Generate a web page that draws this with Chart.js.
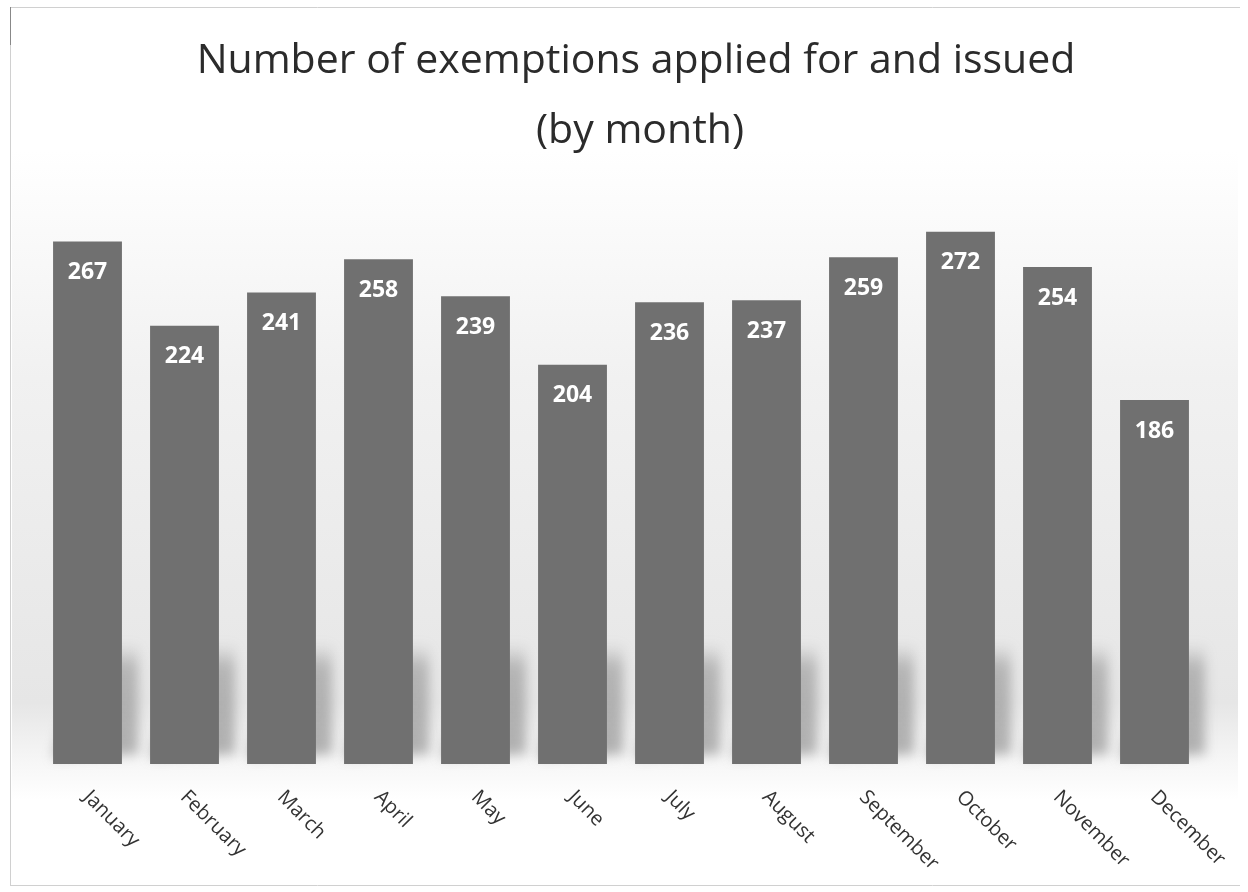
<!DOCTYPE html>
<html><head><meta charset="utf-8">
<script src="https://cdn.jsdelivr.net/npm/chart.js@4/dist/chart.umd.min.js"></script>
<style>html,body{margin:0;padding:0;background:#fff;}canvas{display:block;}</style>
</head><body>
<canvas id="c" width="1248" height="892"></canvas>
<script>
const months = ["January","February","March","April","May","June","July","August","September","October","November","December"];
const exemptions = [267,224,241,258,239,204,236,237,259,272,254,186];
const titleLines = ["Number of exemptions applied for and issued","(by month)"];

const bgPlugin = {
  id:'bg',
  beforeDraw(chart){
    const ctx = chart.ctx, W = chart.width, H = chart.height;
    ctx.save();
    ctx.fillStyle = '#ffffff'; ctx.fillRect(0,0,W,H);
    const g = ctx.createLinearGradient(0,150,0,800);
    g.addColorStop(0,'#ffffff');
    g.addColorStop(0.35,'#f1f1f1');
    g.addColorStop(0.85,'#e6e6e6');
    g.addColorStop(0.94,'#f6f6f6');
    g.addColorStop(1,'#ffffff');
    ctx.fillStyle = g; ctx.fillRect(12,150,W-22,650);
    ctx.strokeStyle = '#d0d0d0'; ctx.lineWidth = 1;
    ctx.beginPath(); ctx.moveTo(10.5,7); ctx.lineTo(10.5,885); ctx.stroke();
    ctx.beginPath(); ctx.moveTo(10,7.5); ctx.lineTo(1240,7.5); ctx.stroke();
    ctx.beginPath(); ctx.moveTo(10,885.5); ctx.lineTo(1240,885.5); ctx.stroke();
    ctx.strokeStyle = '#888'; ctx.beginPath(); ctx.moveTo(10.5,7); ctx.lineTo(10.5,45); ctx.stroke();
    ctx.fillStyle = '#2b2b2b';
    ctx.font = '41px "Open Sans"';
    ctx.textAlign = 'center'; ctx.textBaseline = 'alphabetic';
    ctx.fillText(titleLines[0], 636, 73);
    ctx.fillText(titleLines[1], 640, 143);
    ctx.restore();
  },
  beforeDatasetsDraw(chart){
    const ctx = chart.ctx;
    const meta = chart.getDatasetMeta(0);
    const base = chart.scales.y.getPixelForValue(0);
    ctx.save();
    ctx.filter = 'blur(6px)';
    meta.data.forEach(b=>{
      const x0 = b.x - b.width/2, x1 = b.x + b.width/2;
      const top = base - 120;
      const g = ctx.createLinearGradient(0,top,0,base);
      g.addColorStop(0,'rgba(120,120,120,0.0)');
      g.addColorStop(0.2,'rgba(120,120,120,0.45)');
      g.addColorStop(1,'rgba(120,120,120,0.55)');
      ctx.fillStyle = g;
      ctx.beginPath();
      ctx.moveTo(x0, base-6);
      ctx.lineTo(x0+30, top);
      ctx.lineTo(x1+16, top);
      ctx.lineTo(x1+16, base-10);
      ctx.closePath();
      ctx.fill();
    });
    ctx.restore();
  },
  afterDatasetsDraw(chart){
    const ctx = chart.ctx;
    const meta = chart.getDatasetMeta(0);
    const xs = chart.scales.x;
    const base = chart.scales.y.getPixelForValue(0);
    ctx.save();
    ctx.fillStyle = '#ffffff';
    ctx.font = 'bold 23px "Open Sans"';
    ctx.textAlign = 'center'; ctx.textBaseline = 'middle';
    meta.data.forEach((b,i)=>{
      ctx.fillText(String(exemptions[i]), b.x, b.y + 31);
    });
    ctx.fillStyle = '#333333';
    ctx.font = '20px "Open Sans"';
    ctx.textAlign = 'left';
    months.forEach((m,i)=>{
      const x = xs.getPixelForValue(i);
      ctx.save();
      ctx.translate(x-1, base+30);
      ctx.rotate(Math.PI/4);
      ctx.fillText(m, 0, 0);
      ctx.restore();
    });
    ctx.restore();
  }
};

new Chart(document.getElementById('c'), {
  type:'bar',
  data:{ labels: months, datasets:[{ data: exemptions, backgroundColor:'#707070', borderWidth:0, barPercentage:0.71, categoryPercentage:1 }]},
  options:{
    responsive:false, animation:false,
    layout:{ padding:{ left:39, right:45, top:177, bottom:128 } },
    plugins:{ legend:{display:false}, tooltip:{enabled:false}, title:{display:false} },
    scales:{
      x:{ display:false },
      y:{ display:false, min:0, max:300 }
    }
  },
  plugins:[bgPlugin]
});
</script>
</body></html>
